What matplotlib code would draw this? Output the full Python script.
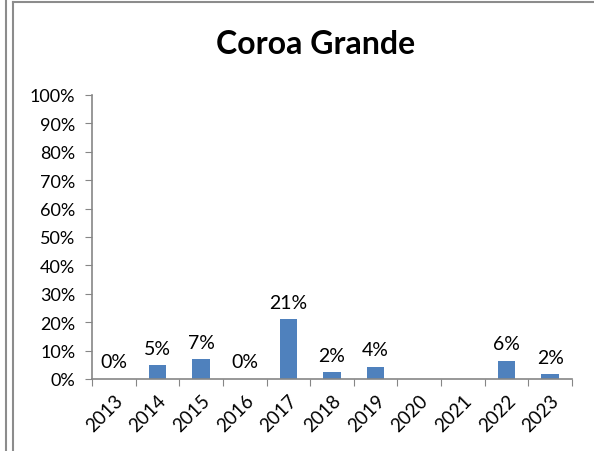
import matplotlib
matplotlib.use("Agg")
from matplotlib import pyplot as plt
from matplotlib.lines import Line2D

plt.rcParams['font.family'] = ['Lato', 'DejaVu Sans']

years = ["2013", "2014", "2015", "2016", "2017", "2018", "2019", "2020", "2021", "2022", "2023"]
values = [0.0, 4.9, 7.0, 0.0, 21.1, 2.4, 4.4, 0.0, 0.0, 6.4, 1.7]
labels = ["0%", "5%", "7%", "0%", "21%", "2%", "4%", "", "", "6%", "2%"]

W, H = 594, 452
fig = plt.figure(figsize=(W / 100, H / 100), dpi=100)
ax = fig.add_axes([92 / W, 1 - 380 / H, (572 - 92) / W, (380 - 96) / H])

x = list(range(len(years)))
ax.bar(x, values, width=0.4, color="#4f81bd")
for xi, v, lab in zip(x, values, labels):
    if lab:
        ax.text(xi, v + 3.0, lab, ha="center", va="bottom", fontsize=14)

ax.set_xlim(-0.5, len(years) - 0.5)
ax.set_ylim(0, 100)
ax.set_yticks(range(0, 101, 10))
ax.set_yticklabels([f"{t}%" for t in range(0, 101, 10)], fontsize=13)
ax.set_xticks([i - 0.5 for i in range(len(years) + 1)], minor=False)
ax.set_xticklabels([])
ax.set_xticks(x, minor=True)
ax.set_xticklabels(years, minor=True, rotation=45, fontsize=13.5, ha="right",
                   rotation_mode="anchor")
ax.tick_params(axis="x", which="minor", length=0, pad=9)
ax.tick_params(axis="x", which="major", length=5, color="#868686", direction="out")
ax.tick_params(axis="y", length=5, color="#868686", pad=7)

for s in ["top", "right"]:
    ax.spines[s].set_visible(False)
for s in ["left", "bottom"]:
    ax.spines[s].set_color("#868686")
    ax.spines[s].set_linewidth(1.2)

fig.text(0.532, 1 - 45 / H, "Coroa Grande", ha="center", va="center",
         fontsize=23, fontweight="bold")

# chart frame lines
fc = "#8c8c8c"
fig.add_artist(Line2D([6 / W, 6 / W], [0, 1], color=fc, lw=1.5))
fig.add_artist(Line2D([13 / W, 13 / W], [0, 1 - 3 / H], color=fc, lw=1.5))
fig.add_artist(Line2D([13 / W, 1], [1 - 3 / H, 1 - 3 / H], color=fc, lw=1.5))

fig.savefig("out.png", dpi=100)
